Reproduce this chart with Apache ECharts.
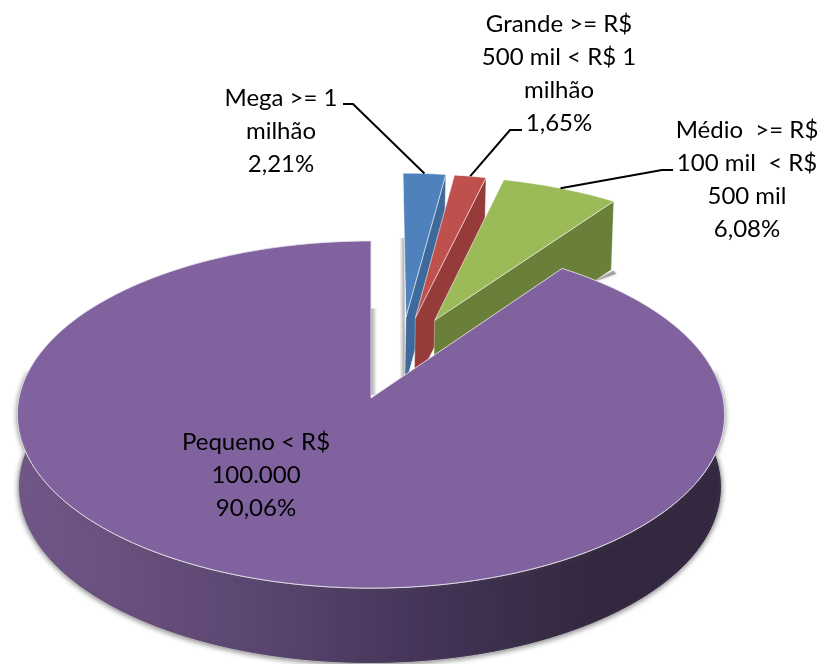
<!DOCTYPE html>
<html>
<head>
<meta charset="utf-8">
<style>html,body{margin:0;padding:0;background:#fff}#c{width:821px;height:664px}</style>
<script src="https://cdn.jsdelivr.net/npm/echarts@6/dist/echarts.min.js"></script>
</head>
<body>
<div id="c"></div>
<script>
// ---- data ----
var categories = ['Mega >= 1\nmilhão', 'Grande >= R$\n500 mil < R$ 1\nmilhão', 'Médio  >= R$\n100 mil  < R$\n500 mil', 'Pequeno < R$\n100.000'];
var shares = [2.21, 1.65, 6.08, 90.06];

// ---- style ----
var topColors  = ['#4f81bd', '#c0504d', '#9bbb59', '#7f629e'];
var wallColors = ['#3d6a9b', '#953c3a', '#6a7f3a', '#4a3a5e'];

// ---- layout: perspective of the pie plane, explosion offsets (in radii), labels ----
var view = {cx: 371, cy: 398, a: 352, b: 172, k: 0.0952, depth: 72, sx: 0.994, sy: 1.018, dx: -1};
var explode = [[0.104, 0.493], [0.132, 0.488], [0.189, 0.472], [0, 0]];
var labelAt = [[281, 131], [559, 74], [747, 180], [256, 475]];
var leaderElbow = [[[353, 104], [343, 104]], [[510, 130], [522, 130]], [[662, 170], [673, 170]], null];
var font = '24px Lato, Carlito, sans-serif';

function project(u, v, low) {
  var d = 1 + view.k * v;
  if (low) return [view.cx + view.dx + view.a * view.sx * u / d, view.cy + view.depth - view.b * view.sy * v / d];
  return [view.cx + view.a * u / d, view.cy - view.b * v / d];
}
var total = shares.reduce(function (s, x) { return s + x; }, 0);
function startAngle(i) {
  var s = 0;
  for (var j = 0; j < i; j++) s += shares[j];
  return s / total * Math.PI * 2;
}
function rim(i, th, low) {
  return project(explode[i][0] + Math.sin(th), explode[i][1] + Math.cos(th), low);
}
function lerp(p, q, t) { return [p[0] + (q[0] - p[0]) * t, p[1] + (q[1] - p[1]) * t]; }
function shift(p, dx, dy) { return [p[0] + dx, p[1] + dy]; }

function softStrip(p, q, w) {
  // thin grey glow next to an edge
  return {
    type: 'polygon',
    shape: {points: [p, q, shift(q, w, 0), shift(p, w, 0)]},
    style: {fill: new echarts.graphic.LinearGradient(w < 0 ? 1 : 0, 0, w < 0 ? 0 : 1, 0, [
      {offset: 0, color: 'rgba(120,120,120,0.75)'},
      {offset: 1, color: 'rgba(170,170,170,0.05)'}
    ])},
    silent: true
  };
}

function renderSlice(params) {
  var i = params.dataIndex;
  var a0 = startAngle(i), a1 = startAngle(i + 1);
  var apexT = project(explode[i][0], explode[i][1], false);
  var apexB = project(explode[i][0], explode[i][1], true);
  var children = [];
  var pts = [apexT], n = Math.max(6, Math.ceil((a1 - a0) * 60));
  for (var s = 0; s <= n; s++) pts.push(rim(i, a0 + (a1 - a0) * s / n, false));

  if (i < 3) {
    var leftEnd = rim(i, a0, false);
    if (i === 0) children.push(softStrip(lerp(apexT, leftEnd, 0.55), shift(apexB, 0, 3), -5));
    if (i === 2) {
      var c0 = rim(i, a1, true);
      children.push({
        type: 'polygon',
        shape: {points: [shift(c0, 2, 1), shift(c0, 5, 4), lerp(c0, apexB, 0.1), lerp(c0, apexB, 0.08)]},
        style: {fill: 'rgba(130,130,130,0.6)', shadowBlur: 3, shadowColor: 'rgba(120,120,120,0.8)'},
        silent: true
      });
    }
    var endT = rim(i, a1, false), endB = rim(i, a1, true);
    children.push({
      type: 'polygon',
      shape: {points: [apexT, endT, endB, apexB]},
      style: {fill: wallColors[i], stroke: 'rgba(255,255,255,0.35)', lineWidth: 1}
    });
  } else {
    // rim of the big slice, seen from the front
    var wall = [], m = 220, from = Math.PI * 0.45, to = Math.PI * 1.55, t;
    for (t = 0; t <= m; t++) wall.push(rim(i, from + (to - from) * t / m, false));
    for (t = m; t >= 0; t--) wall.push(rim(i, from + (to - from) * t / m, true));
    children.push({
      type: 'polygon',
      shape: {points: wall},
      style: {
        fill: new echarts.graphic.LinearGradient(0, 0, 1, 0, [
          {offset: 0.00, color: '#715789'},
          {offset: 0.15, color: '#69507f'},
          {offset: 0.35, color: '#5a4570'},
          {offset: 0.56, color: '#46355a'},
          {offset: 0.71, color: '#3a2d49'},
          {offset: 0.82, color: '#332840'},
          {offset: 1.00, color: '#332840'}
        ]),
        stroke: '#b9b9b9', lineWidth: 1,
        shadowBlur: 5, shadowColor: 'rgba(90,90,90,0.7)', shadowOffsetY: 1
      }
    });
    var closeEnd = rim(i, a1, false);
    children.push(softStrip(lerp(apexT, closeEnd, 0.57), shift(apexT, 0, -3), 6));
  }
  children.push({
    type: 'polygon',
    shape: {points: pts},
    style: {
      fill: topColors[i],
      stroke: i === 3 ? 'rgba(235,230,240,0.85)' : 'rgba(255,255,255,0.55)',
      lineWidth: 1, lineJoin: 'miter'
    }
  });
  return {type: 'group', children: children};
}

function renderNotes(params) {
  var i = params.dataIndex;
  var children = [];
  if (leaderElbow[i]) {
    var mid = (startAngle(i) + startAngle(i + 1)) / 2;
    children.push({
      type: 'polyline',
      shape: {points: [rim(i, mid, false), leaderElbow[i][0], leaderElbow[i][1]]},
      style: {stroke: '#000', lineWidth: 2, fill: null}
    });
  }
  children.push({
    type: 'text',
    style: {
      text: categories[i] + '\n' + shares[i].toFixed(2).replace('.', ',') + '%',
      x: labelAt[i][0], y: labelAt[i][1],
      align: 'center', verticalAlign: 'middle',
      font: font, lineHeight: 33, fill: '#000'
    }
  });
  return {type: 'group', children: children};
}

var chart = echarts.init(document.getElementById('c'), null, {renderer: 'canvas', width: 821, height: 664});
chart.setOption({
  animation: false,
  backgroundColor: '#fff',
  series: [
    {type: 'custom', coordinateSystem: 'none', data: shares, renderItem: renderSlice, silent: true, z: 1},
    {type: 'custom', coordinateSystem: 'none', data: shares, renderItem: renderNotes, silent: true, z: 2}
  ]
});
</script>
</body>
</html>
